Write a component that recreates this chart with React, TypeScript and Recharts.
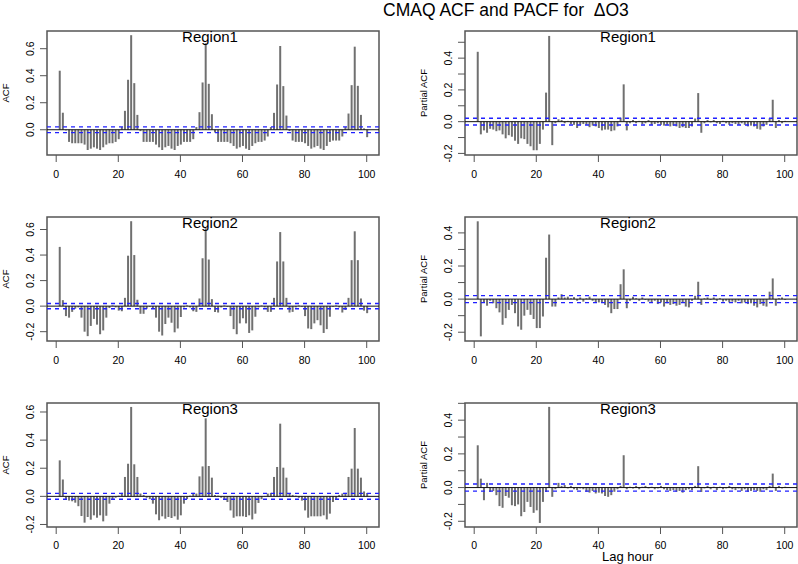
import React from 'react';
import { ComposedChart, Bar, XAxis, YAxis, ReferenceLine, ReferenceArea } from 'recharts';

// lag indices 1..100
const LAGS: number[] = Array.from({ length: 100 }, (_, i) => i + 1);
const X_TICKS = [0, 20, 40, 60, 80, 100];
const CI = 0.021;

const region1Acf = [
  0.437, 0.126, -0.005, -0.09, -0.1, -0.1, -0.1, -0.1, -0.11, -0.15,
  -0.14, -0.13, -0.14, -0.15, -0.13, -0.11, -0.1, -0.1, -0.09, -0.07,
  0.02, 0.14, 0.37, 0.7, 0.345, 0.11, -0.01, -0.09, -0.09, -0.09,
  -0.09, -0.11, -0.13, -0.15, -0.13, -0.12, -0.14, -0.15, -0.12, -0.11,
  -0.09, -0.09, -0.09, -0.07, 0.02, 0.13, 0.35, 0.64, 0.34, 0.115,
  -0.02, -0.09, -0.09, -0.09, -0.09, -0.1, -0.12, -0.14, -0.13, -0.12,
  -0.14, -0.15, -0.12, -0.1, -0.09, -0.09, -0.08, -0.05, 0.02, 0.125,
  0.335, 0.62, 0.323, 0.105, -0.01, -0.08, -0.09, -0.09, -0.09, -0.1,
  -0.12, -0.14, -0.13, -0.12, -0.14, -0.15, -0.12, -0.09, -0.08, -0.08,
  -0.08, -0.05, 0.02, 0.12, 0.33, 0.615, 0.325, 0.11, 0.01, -0.055,
];

const region1Pacf = [
  0.44, -0.08, -0.055, -0.07, -0.045, -0.05, -0.06, -0.055, -0.08, -0.105,
  -0.085, -0.095, -0.12, -0.14, -0.105, -0.11, -0.14, -0.155, -0.18, -0.18,
  -0.14, -0.05, 0.183, 0.54, -0.148, -0.01, 0.015, 0.01, -0.01, 0.005,
  -0.015, -0.02, -0.04, -0.02, -0.015, -0.02, -0.035, -0.025, -0.03, -0.04,
  -0.055, -0.05, -0.05, -0.06, -0.055, -0.03, 0.025, 0.235, -0.055, -0.01,
  0.01, -0.01, 0.005, -0.015, -0.01, 0.01, -0.02, -0.015, -0.01, -0.02,
  -0.025, -0.02, -0.03, -0.025, -0.03, -0.04, -0.035, -0.04, -0.04, -0.03,
  0.02, 0.18, -0.07, -0.01, 0.01, -0.005, 0.01, -0.01, -0.015, 0.005,
  -0.01, -0.02, -0.01, -0.015, -0.02, -0.01, -0.02, -0.03, -0.025, -0.03,
  -0.045, -0.05, -0.03, -0.02, 0.02, 0.138, -0.04, 0.01, -0.01, 0.005,
];

const region2Acf = [
  0.464, 0.047, -0.078, -0.09, -0.045, -0.02, -0.01, -0.09, -0.2, -0.235,
  -0.155, -0.1, -0.145, -0.22, -0.19, -0.09, -0.015, 0.005, -0.01, -0.035,
  -0.04, 0.065, 0.395, 0.665, 0.4, 0.05, -0.06, -0.06, -0.02, -0.005,
  -0.015, -0.09, -0.2, -0.23, -0.14, -0.09, -0.13, -0.205, -0.175, -0.085,
  -0.01, 0.005, -0.01, -0.04, -0.045, 0.06, 0.375, 0.61, 0.365, 0.055,
  -0.045, -0.05, -0.01, 0.005, -0.005, -0.078, -0.18, -0.22, -0.135, -0.095,
  -0.135, -0.21, -0.19, -0.083, -0.01, 0.005, -0.01, -0.045, -0.045, 0.065,
  0.35, 0.58, 0.35, 0.065, -0.05, -0.045, -0.01, 0.005, -0.005, -0.078,
  -0.175, -0.18, -0.135, -0.11, -0.15, -0.21, -0.18, -0.083, -0.005, 0.005,
  -0.01, -0.05, -0.03, 0.065, 0.36, 0.586, 0.36, 0.06, -0.035, -0.055,
];

const region2Pacf = [
  0.47, -0.225, -0.02, -0.04, -0.01, -0.025, -0.055, -0.08, -0.155, -0.115,
  -0.065, -0.035, -0.085, -0.165, -0.185, -0.1, -0.065, -0.095, -0.12, -0.175,
  -0.175, -0.105, 0.25, 0.39, -0.045, -0.045, 0.01, 0.03, 0.01, 0.015,
  0.005, 0.012, -0.01, 0.01, -0.015, 0.005, 0.015, -0.01, -0.02, -0.02,
  -0.02, -0.035, -0.05, -0.085, -0.06, -0.06, 0.09, 0.18, -0.055, -0.01,
  0.015, 0.005, -0.01, 0.01, -0.005, -0.015, -0.02, -0.01, -0.03, -0.02,
  -0.045, -0.025, -0.035, -0.03, -0.04, -0.035, -0.02, -0.045, -0.05, -0.01,
  0.02, 0.105, -0.035, 0.005, 0.01, -0.005, 0.01, -0.01, 0.005, -0.015,
  -0.01, -0.02, -0.015, -0.02, -0.01, -0.025, -0.02, -0.03, -0.025, -0.04,
  -0.05, -0.03, -0.04, -0.045, 0.045, 0.125, -0.04, 0.005, 0.01, -0.005,
];

const region3Acf = [
  0.256, 0.12, -0.024, -0.03, -0.035, -0.045, -0.07, -0.14, -0.187, -0.147,
  -0.166, -0.135, -0.152, -0.135, -0.178, -0.138, -0.052, -0.02, -0.01, 0.005,
  0.025, 0.138, 0.232, 0.636, 0.228, 0.138, 0.02, 0.01, -0.01, -0.02,
  -0.052, -0.128, -0.17, -0.142, -0.159, -0.147, -0.154, -0.142, -0.166, -0.135,
  -0.052, -0.02, 0.005, 0.025, 0.02, 0.142, 0.213, 0.555, 0.216, 0.133,
  0.01, 0.005, -0.01, -0.02, -0.04, -0.1, -0.152, -0.142, -0.142, -0.142,
  -0.147, -0.135, -0.164, -0.123, -0.047, -0.02, 0.003, 0.02, 0.025, 0.138,
  0.209, 0.517, 0.204, 0.133, 0.02, 0.01, 0.005, -0.01, -0.03, -0.1,
  -0.152, -0.142, -0.142, -0.142, -0.142, -0.135, -0.164, -0.123, -0.04, -0.02,
  0.01, 0.02, 0.025, 0.138, 0.197, 0.486, 0.197, 0.133, 0.035, 0.024,
];

const region3Pacf = [
  0.251, 0.053, -0.075, 0.028, -0.026, -0.02, -0.045, -0.11, -0.12, -0.05,
  -0.06, -0.105, -0.11, -0.1, -0.17, -0.145, -0.085, -0.115, -0.15, -0.135,
  -0.21, -0.085, -0.026, 0.479, -0.055, -0.01, 0.028, 0.01, 0.015, -0.005,
  0.01, -0.01, -0.015, -0.005, -0.01, -0.025, -0.03, -0.02, -0.035, -0.03,
  -0.035, -0.05, -0.055, -0.045, -0.025, -0.01, 0.01, 0.192, -0.01, 0.005,
  -0.005, 0.01, -0.01, 0.005, 0.01, -0.005, 0.005, -0.01, -0.005, 0.01,
  -0.01, -0.015, -0.02, -0.015, -0.025, -0.02, -0.03, -0.015, -0.01, -0.015,
  0.01, 0.127, -0.026, -0.005, 0.01, -0.01, 0.005, -0.015, 0.005, -0.01,
  -0.005, 0.01, -0.01, -0.015, -0.005, -0.02, -0.01, -0.025, -0.02, -0.015,
  -0.02, -0.025, -0.01, -0.015, 0.01, 0.083, -0.02, 0.01, -0.005, 0.005,
];

const ACF_TICKS_A = [0, 0.2, 0.4, 0.6];
const ACF_TICKS_B = [-0.2, 0, 0.2, 0.4, 0.6];
const PACF_TICKS_A = [-0.2, -0.1, 0, 0.1, 0.2, 0.3, 0.4, 0.5];
const PACF_TICKS_B = [-0.2, -0.1, 0, 0.1, 0.2, 0.3, 0.4];

const MAIN_TITLE = 'CMAQ ACF and PACF for  \u0394O3';
const X_TITLE = 'Lag hour';
const REGIONS = ['Region1', 'Region2', 'Region3'];

const FONT = '"Liberation Sans", Arial, Helvetica, sans-serif';
const X_DOMAIN: [number, number] = [-2.96, 103.96];
const BOX_W = 332;
const BOX_H = 124;
const Y_AX_W = 47;
const X_AX_H = 32;

function YTick(props: any) {
  const { x, y, payload } = props;
  const v = payload.value as number;
  const labeled = Math.abs(Math.round(v * 10)) % 2 === 0;
  if (!labeled) return <g />;
  const cx = x - 8;
  return (
    <text
      x={cx}
      y={y}
      transform={`rotate(-90 ${cx} ${y})`}
      textAnchor="middle"
      dy="0.35em"
      fontSize={10.5}
      fontFamily={FONT}
      fill="#000"
    >
      {v.toFixed(1)}
    </text>
  );
}

function Panel(props: {
  values: number[];
  domain: [number, number];
  ticks: number[];
  left: number;
  top: number;
  tickGap: number;
}) {
  const { values, domain, ticks, left, top, tickGap } = props;
  const data = LAGS.map((lag, i) => ({ lag, v: values[i] }));
  return (
    <div style={{ position: 'absolute', left: left - Y_AX_W, top: top - 2 }}>
      <ComposedChart
        width={Y_AX_W + BOX_W + 2}
        height={2 + BOX_H + X_AX_H}
        data={data}
        margin={{ top: 2, right: 2, bottom: 0, left: 0 }}
      >
        <XAxis
          dataKey="lag"
          type="number"
          domain={X_DOMAIN}
          ticks={X_TICKS}
          allowDataOverflow
          interval={0}
          axisLine={false}
          tickLine={{ stroke: '#555' }}
          tickSize={7}
          tickMargin={tickGap}
          height={X_AX_H}
          tick={{ fill: '#000', fontSize: 10.5, fontFamily: FONT }}
        />
        <YAxis
          type="number"
          domain={domain}
          ticks={ticks}
          allowDataOverflow
          interval={0}
          width={Y_AX_W}
          axisLine={false}
          tickLine={{ stroke: '#555' }}
          tickSize={7}
          tickMargin={2}
          tick={<YTick />}
        />
        <ReferenceArea
          x1={X_DOMAIN[0]}
          x2={X_DOMAIN[1]}
          y1={domain[0]}
          y2={domain[1]}
          fill="none"
          fillOpacity={0}
          stroke="#555"
          strokeWidth={1.5}
          ifOverflow="visible"
        />
        <Bar dataKey="v" fill="#707070" barSize={2} isAnimationActive={false} />
        <ReferenceLine y={0} stroke="#111" strokeWidth={1} />
        <ReferenceLine y={CI} stroke="#2020ff" strokeDasharray="4 4" strokeWidth={1.4} />
        <ReferenceLine y={-CI} stroke="#2020ff" strokeDasharray="4 4" strokeWidth={1.4} />
      </ComposedChart>
    </div>
  );
}

const LEFT_X = 47;
const RIGHT_X = 465;
const ROW_Y = [31, 217, 403];

export default function App() {
  return (
    <div
      style={{
        position: 'absolute',
        left: 0,
        top: 0,
        width: 798,
        height: 564,
        background: '#fff',
        fontFamily: FONT,
        overflow: 'hidden',
      }}
    >
      <Panel values={region1Acf} domain={[-0.187, 0.731]} ticks={ACF_TICKS_A} left={LEFT_X} top={ROW_Y[0]} tickGap={9} />
      <Panel values={region1Pacf} domain={[-0.21, 0.571]} ticks={PACF_TICKS_A} left={RIGHT_X} top={ROW_Y[0]} tickGap={9} />
      <Panel values={region2Acf} domain={[-0.273, 0.698]} ticks={ACF_TICKS_B} left={LEFT_X} top={ROW_Y[1]} tickGap={9} />
      <Panel values={region2Pacf} domain={[-0.253, 0.496]} ticks={PACF_TICKS_B} left={RIGHT_X} top={ROW_Y[1]} tickGap={9} />
      <Panel values={region3Acf} domain={[-0.218, 0.664]} ticks={ACF_TICKS_B} left={LEFT_X} top={ROW_Y[2]} tickGap={8} />
      <Panel values={region3Pacf} domain={[-0.234, 0.502]} ticks={PACF_TICKS_A} left={RIGHT_X} top={ROW_Y[2]} tickGap={8} />
      <svg
        width={798}
        height={564}
        style={{ position: 'absolute', left: 0, top: 0, pointerEvents: 'none' }}
        fontFamily={FONT}
      >
        <text x={383} y={16} fontSize={17.5} fill="#000" style={{ whiteSpace: 'pre' }}>{MAIN_TITLE}</text>
        <text x={602} y={560.5} fontSize={13} fill="#000">{X_TITLE}</text>
        {ROW_Y.map((ty, r) => (
          <g key={r}>
            <text x={LEFT_X + BOX_W / 2 - 3} y={ty + 11} fontSize={15} textAnchor="middle" fill="#000">
              {REGIONS[r]}
            </text>
            <text x={RIGHT_X + BOX_W / 2 - 3} y={ty + 11} fontSize={15} textAnchor="middle" fill="#000">
              {REGIONS[r]}
            </text>
            <text
              x={6}
              y={ty + BOX_H / 2}
              transform={`rotate(-90 6 ${ty + BOX_H / 2})`}
              textAnchor="middle"
              dy="0.35em"
              fontSize={9.5}
              fill="#000"
            >
              ACF
            </text>
            <text
              x={424}
              y={ty + BOX_H / 2}
              transform={`rotate(-90 424 ${ty + BOX_H / 2})`}
              textAnchor="middle"
              dy="0.35em"
              fontSize={9.5}
              fill="#000"
            >
              Partial ACF
            </text>
          </g>
        ))}
      </svg>
    </div>
  );
}
